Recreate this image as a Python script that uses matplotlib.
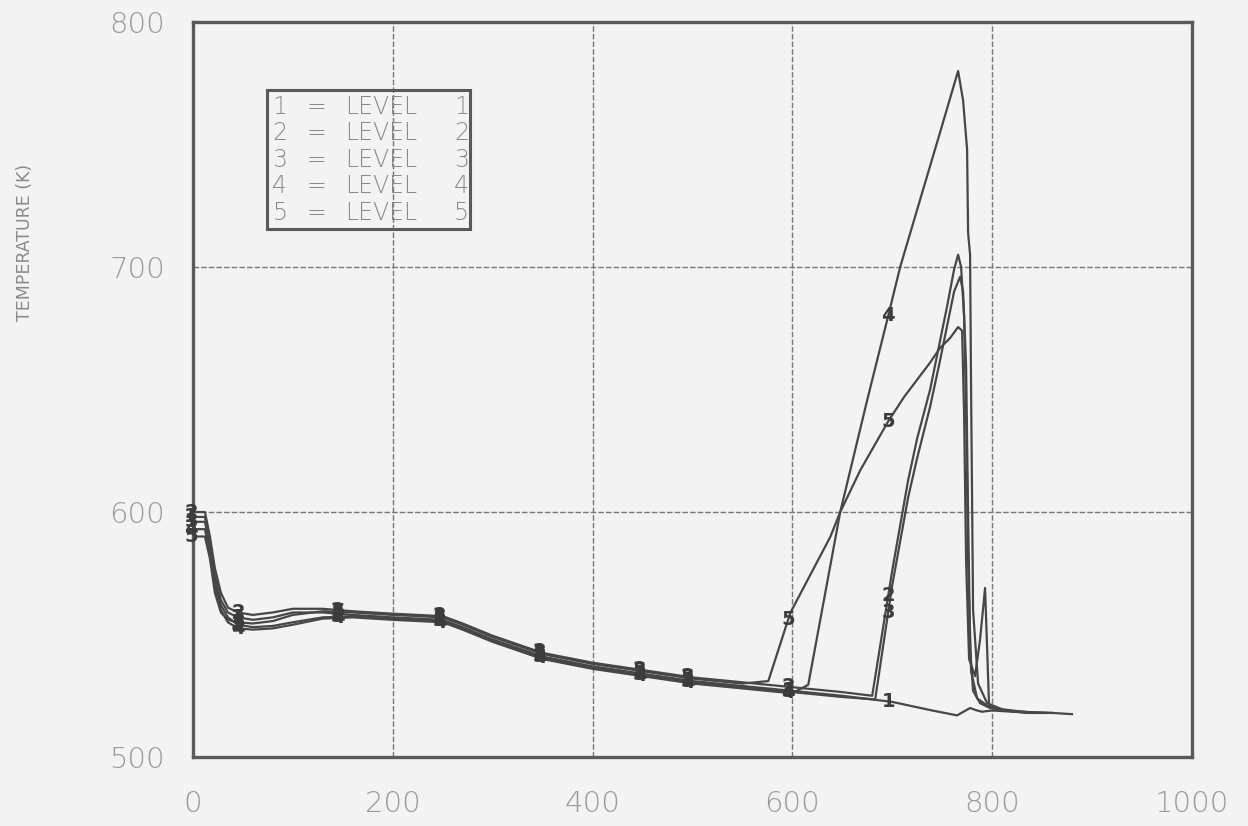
import matplotlib
matplotlib.use("Agg")
import matplotlib.pyplot as plt
from matplotlib.patches import Rectangle
import numpy as np

# time (s) / temperature (K) for each level
x1 = [0, 12, 17, 22, 28, 35, 45, 60, 80, 100, 130, 160, 200, 250, 270, 300, 350, 400,
      450, 500, 550, 600, 650, 700, 740, 765, 778, 785, 790, 800, 820, 840, 860, 880]
y1 = [598, 598, 588, 574, 564, 559, 557, 556, 557, 559, 559, 558, 557, 556, 553, 548,
      541, 537, 534, 531, 529, 527, 525, 522.5, 519, 517, 520, 519, 518.5, 519, 518.5,
      518, 518, 517.5]

x2 = [0, 12, 17, 22, 28, 35, 45, 60, 80, 100, 130, 160, 200, 250, 270, 300, 350, 400,
      450, 500, 550, 600, 650, 680, 700, 716, 725, 738, 748, 755, 762, 766, 769, 772,
      774, 776, 779, 785, 795, 810, 830, 850]
y2 = [600, 600, 590, 577, 567, 561, 559, 558, 559, 560.5, 560.5, 559.5, 558.5, 557.5,
      554.5, 549.5, 542.5, 538.5, 535.5, 532.5, 530.5, 528.5, 526.5, 525, 576, 613,
      630, 650, 670, 684, 699, 705, 700, 680, 640, 580, 535, 524, 521, 519, 518.5, 518]

x3 = [0, 12, 17, 22, 28, 35, 45, 60, 80, 100, 130, 160, 200, 250, 270, 300, 350, 400,
      450, 500, 550, 600, 650, 683, 700, 716, 725, 738, 748, 755, 762, 768, 771, 774,
      776, 778, 781, 788, 798, 815, 835, 855]
y3 = [596, 596, 586, 571, 562, 557, 554, 553, 553.5, 555, 557, 557.5, 556.5, 555.5,
      552.5, 547.5, 540.5, 536.5, 533.5, 530.5, 528.5, 526.5, 524.5, 523.5, 570, 606,
      622, 643, 662, 676, 690, 696, 690, 660, 600, 545, 527, 522, 520, 519, 518, 518]

x4 = [0, 12, 17, 22, 28, 35, 45, 60, 80, 100, 130, 160, 200, 250, 270, 300, 350, 400,
      450, 500, 550, 600, 616, 648, 675, 696, 708, 748, 766, 771, 775, 776, 778, 779,
      781, 786, 795, 810, 830, 845]
y4 = [593, 593, 583, 569, 560, 555, 552.5, 552, 552.5, 554, 556.5, 557, 556, 555,
      552, 547, 540, 536, 533, 530, 528, 526, 529.5, 600, 645.7, 680, 700, 755, 780,
      768, 748, 714, 705, 650, 560, 530, 522, 519.5, 518.5, 518]

x5 = [0, 12, 17, 22, 28, 35, 45, 60, 80, 100, 130, 160, 200, 250, 270, 300, 350, 400,
      450, 500, 550, 576, 598, 615, 638, 648, 668, 696, 712, 725, 738, 748, 758, 766,
      770, 772, 774, 777, 783, 788, 793, 797, 805, 825, 860]
y5 = [590, 590, 581, 567, 559, 556, 555, 554.5, 555.5, 558, 559.5, 559, 558, 557,
      554, 549, 542, 538, 535, 532, 530, 531, 558.8, 572, 589.8, 600, 617, 637, 647,
      654, 661, 667, 671, 675.5, 674, 640, 580, 540, 533, 548, 569, 521, 519.5, 518.5,
      518]

curves = [(x1, y1), (x2, y2), (x3, y3), (x4, y4), (x5, y5)]
level_names = ["1", "2", "3", "4", "5"]

# where the plotter wrote the curve numbers
label_x = [-2, 45, 145, 247, 347, 447, 495, 596, 696]

x_ticks = [0, 200, 400, 600, 800, 1000]
y_ticks = [500, 600, 700, 800]

ink = "#474747"
paper = "#f3f3f3"

fig = plt.figure(figsize=(12.48, 8.26), dpi=100)
fig.patch.set_facecolor(paper)
ax = fig.add_axes([0.1546, 0.0835, 0.8004, 0.8899])
ax.set_facecolor(paper)

for (xs, ys), name in zip(curves, level_names):
    ax.plot(xs, ys, color=ink, lw=1.6, solid_joinstyle="round")
    for lx in label_x:
        ly = np.interp(lx, xs, ys)
        ax.text(lx, ly, name, ha="center", va="center", fontsize=14,
                fontweight="bold", color="#3c3c3c", clip_on=False)

ax.set_xlim(0, 1000)
ax.set_ylim(500, 800)
ax.set_xticks(x_ticks)
ax.set_yticks(y_ticks)
ax.grid(True, color="#777777", lw=1.0, ls=(0, (4, 1.5)))
ax.set_axisbelow(True)
for sp in ax.spines.values():
    sp.set_color("#5a5a5a")
    sp.set_linewidth(2.4)
ax.tick_params(length=0, labelsize=21, labelcolor="#9a9a9a")
ax.tick_params(axis="x", pad=24)
ax.tick_params(axis="y", pad=20)
for lab in ax.get_xticklabels() + ax.get_yticklabels():
    lab.set_fontweight("light")

fig.text(0.020, 0.706, "TEMPERATURE (K)", rotation=90, ha="center", va="center",
         fontsize=12.5, color="#8a8a8a")

# legend box written as a plain text table
ax.add_patch(Rectangle((0.074, 0.718), 0.203, 0.189, transform=ax.transAxes,
                       fill=False, ec="#5a5a5a", lw=2.2, zorder=5))
rows_y = [0.884, 0.849, 0.812, 0.777, 0.740]
for name, ry in zip(level_names, rows_y):
    kw = dict(transform=ax.transAxes, va="center", fontsize=17, color="#8a8a8a",
              fontweight="light", zorder=6)
    ax.text(0.087, ry, name, ha="center", **kw)
    ax.text(0.124, ry, "=", ha="center", **kw)
    ax.text(0.152, ry, "LEVEL", ha="left", **kw)
    ax.text(0.269, ry, name, ha="center", **kw)

fig.savefig("out.png", dpi=100, facecolor=paper)
